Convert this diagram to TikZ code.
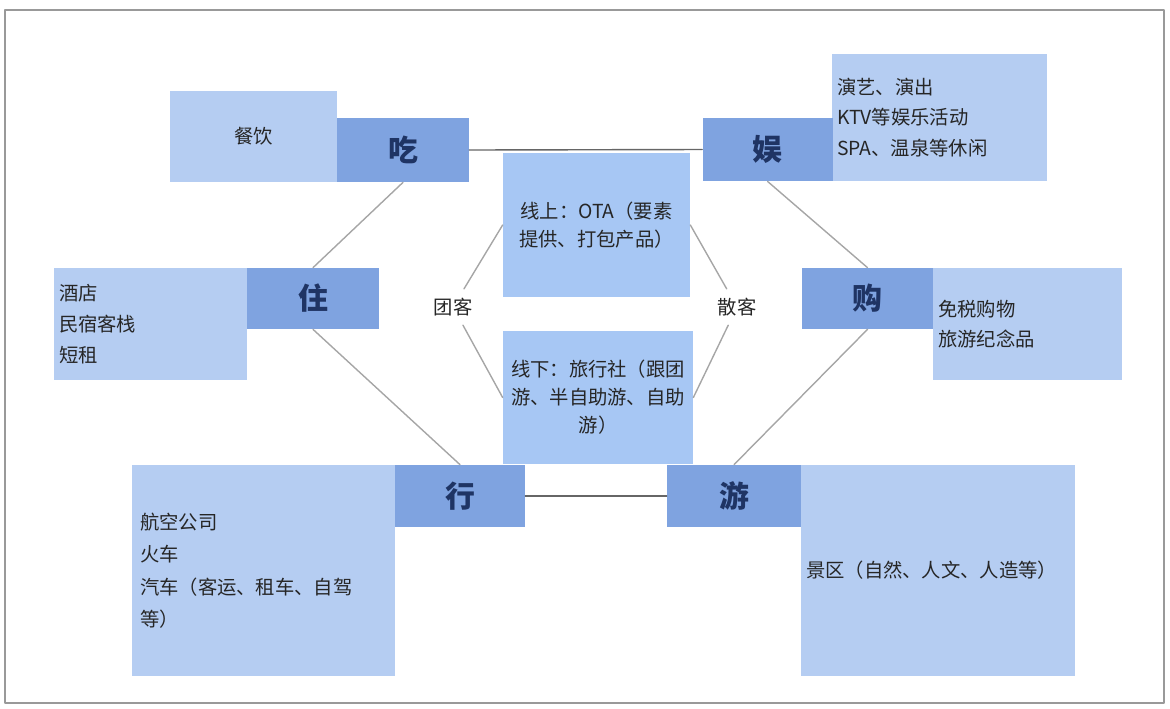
\documentclass[tikz,border=0pt]{standalone}
\usepackage{fontspec}
\newfontfamily\cjk{Noto Sans CJK SC}
\definecolor{keyblue}{RGB}{127,163,224}
\definecolor{descblue}{RGB}{181,205,242}
\definecolor{midblue}{RGB}{167,199,244}
\definecolor{navy}{RGB}{31,52,100}
\definecolor{txtgray}{RGB}{38,38,38}
\begin{document}
\begin{tikzpicture}[x=0.02cm, y=-0.02cm, line join=round, line cap=round,
  sz/.style 2 args={minimum width=#1*0.02cm, minimum height=#2*0.02cm},
  keybox/.style={fill=keyblue, inner sep=0pt, text=navy, font=\cjk\bfseries\fontsize{17}{17}\selectfont},
  descbox/.style={fill=descblue, inner sep=0pt, text=txtgray, align=left, font=\cjk\fontsize{11}{17.5}\selectfont},
  midbox/.style={fill=midblue, inner sep=0pt, text=txtgray, align=center, font=\cjk\fontsize{11}{16}\selectfont},
  lbl/.style={inner sep=5pt, text=txtgray, font=\cjk\fontsize{11}{11}\selectfont},
  link/.style={draw=black!35, line width=0.8pt},
  hlink/.style={draw=black!60, line width=0.8pt}]
\useasboundingbox (0,0) rectangle (1170,708);
\draw[black!40, line width=0.6pt] (5,10) rectangle (1164,703);
\node[descbox, sz={167}{91}, align=center] (canyin) at (253.5,136.5) {餐饮};
\node[keybox, sz={132}{64}] (chi) at (403,150) {吃};
\node[descbox, sz={215}{127}, text width=4.1cm] (yudesc) at (939.5,117.5) {演艺、演出\\KTV等娱乐活动\\SPA、温泉等休闲};
\node[keybox, sz={130}{63}] (yu) at (767.5,149.5) {娱};
\node[midbox, sz={187}{144}] (ota) at (596.5,225) {线上：OTA（要素\\提供、打包产品）};
\node[descbox, sz={193}{112}, text width=3.66cm] (zhudesc) at (150.5,324) {酒店\\民宿客栈\\短租};
\node[keybox, sz={132}{61}] (zhu) at (313,298.5) {住};
\node[keybox, sz={131}{61}] (gou) at (867.5,298.5) {购};
\node[descbox, sz={189}{112}, text width=3.58cm] (goudesc) at (1027.5,324) {免税购物\\旅游纪念品};
\node[midbox, sz={190}{133}] (xianxia) at (598,397.5) {线下：旅行社（跟团\\游、半自助游、自助\\游）};
\node[descbox, sz={263}{211}, text width=4.94cm, font=\cjk\fontsize{11}{18.5}\selectfont] (xingdesc) at (263.5,570.5) {航空公司\\火车\\汽车（客运、租车、自驾\\等）};
\node[keybox, sz={130}{62}] (xing) at (460,496) {行};
\node[keybox, sz={134}{62}] (you) at (734,496) {游};
\node[descbox, sz={274}{211}, text width=5.28cm] (youdesc) at (938,570.5) {景区（自然、人文、人造等）};
\node[lbl] (tuanke) at (453,307) {团客};
\node[lbl] (sanke) at (737,307) {散客};
\draw[hlink] (chi.east) -- (yu.west);
\draw[hlink] (xing.east) -- (you.west);
\draw[link] (chi.south) -- (zhu.north);
\draw[link] (zhu.south) -- (xing.north);
\draw[link] (yu.south) -- (gou.north);
\draw[link] (gou.south) -- (you.north);
\draw[link] (ota.west) -- (tuanke);
\draw[link] (tuanke) -- (xianxia.west);
\draw[link] (ota.east) -- (sanke);
\draw[link] (sanke) -- (xianxia.east);
\end{tikzpicture}
\end{document}
